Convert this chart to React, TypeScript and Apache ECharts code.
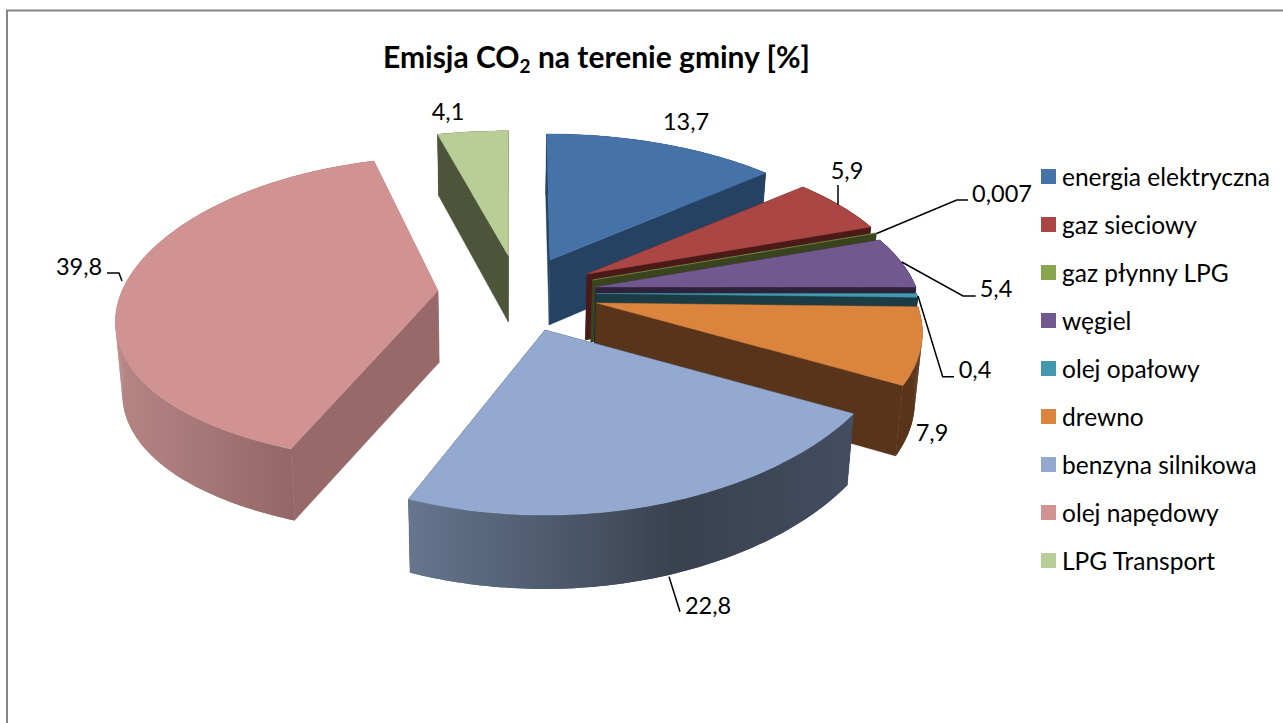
import React, { useEffect, useRef } from "react";
import * as echarts from "echarts";

const categories = ["energia elektryczna", "gaz sieciowy", "gaz płynny LPG", "węgiel", "olej opałowy", "drewno", "benzyna silnikowa", "olej napędowy", "LPG Transport"];
const values = [13.7, 5.9, 0.007, 5.4, 0.4, 7.9, 22.8, 39.8, 4.1];
const valueLabels = ["13,7", "5,9", "0,007", "5,4", "0,4", "7,9", "22,8", "39,8", "4,1"];
const topColors = ["#4572A7", "#AA4643", "#89A54E", "#71588F", "#4198AF", "#DB843D", "#93A9CF", "#D19392", "#B9CD96"];
const faceColors = ["#264263", "#4A1A18", "#39431E", "#2D2239", "#1B3C45", "#58341A", "#3C455A", "#976A69", "#4C5439"];

// apex of each exploded slice on the page and its thickness
const apexes = [[550, 260, 65], [587, 274, 66], [592.5, 280, 62], [596, 287, 62], [596.5, 293.5, 62], [596.5, 303, 68], [545, 330, 69], [438, 291, 71.5], [508.5, 256, 66]];
// rx, ry, x perspective, y perspective, depth perspective, skew of each slice
const geometry = [
  [323, 150, 0.19, 0.19, 0.07, -3.5],
  [320, 150, 0.19, 0.19, 0.07, 0],
  [320, 150, 0.19, 0.19, 0.07, 0],
  [320, 150, 0.19, 0.19, 0.07, 0],
  [320, 150, 0.19, 0.19, 0.07, 0],
  [320, 150, 0.19, 0.19, 0.07, 0],
  [346, 154, 0.056, 0.168, 0.07, 0],
  [316, 150.6, 0.19, 0.125, 0, 4],
  [330, 149, 0.19, 0.19, 0.07, 0],
];
const rimStops: ([number, string][] | null)[] = [null, null, null, null, null, null,
  [[0, "#66768F"], [0.61, "#39414F"], [1, "#434D60"]], [[0, "#B58584"], [1, "#936766"]], null];
const rimRange = [[0, 0], [0, 0], [0, 0], [0, 0], [0, 0], [0, 0], [408, 852], [120, 295], [0, 0]];
const labelPos = [[686, 121], [847, 170], [1002, 193], [996, 288], [975, 369], [932, 432], [708, 605], [79, 266], [448, 111]];
const leaders: number[][][] = [[], [[838, 185], [838, 205]], [[876.7, 233.5], [956.7, 200], [968, 200]], [[901.7, 262], [963, 296], [975.7, 296]], [[918, 296], [942.7, 376.7], [954, 376.7]], [], [[669, 576.7], [680, 611.7]], [[107, 273], [119, 273], [122, 281]], []];

const FONT = "Lato";
const total = values.reduce((a, b) => a + b, 0);
const startOf = (i: number) => values.slice(0, i).reduce((a, b) => a + b, 0) / total * 360;

const BOTTOM_K = 0.018, BOTTOM_X0 = 500;

function project(i: number, deg: number, radius: number, bottom: boolean): number[] {
  const [ax, ay, h] = apexes[i];
  const [rx, ry, px, py, dp, skew] = geometry[i];
  const a = deg * Math.PI / 180;
  const X = Math.sin(a) * radius, Y = Math.cos(a) * radius;
  let sx = ax + rx * X / (1 + px * Y) + skew * Y;
  let sy = ay - ry * Y / (1 + py * Y);
  if (bottom) {
    sy += h * (1 - dp * Y);
    sx -= (sx - BOTTOM_X0) * BOTTOM_K;
  }
  return [sx, sy];
}

function renderSlice(i: number) {
  return (_p: any, api: any) => {
    const share = api.value(0) / total * 360;
    const a0 = startOf(i), a1 = a0 + share;
    const n = Math.max(1, Math.ceil(share));
    const topArc: number[][] = [], botArc: number[][] = [];
    for (let k = 0; k <= n; k++) {
      const d = a0 + (a1 - a0) * k / n;
      topArc.push(project(i, d, 1, false));
      botArc.push(project(i, d, 1, true));
    }
    const apex = project(i, 0, 0, false), apexB = project(i, 0, 0, true);
    const face = faceColors[i];
    const stops = rimStops[i];
    const rimFill = stops
      ? new echarts.graphic.LinearGradient(rimRange[i][0], 0, rimRange[i][1], 0,
          stops.map(([offset, color]) => ({ offset, color })), true)
      : face;
    const poly = (points: number[][], fill: any, stroke = true) => ({
      type: "polygon", shape: { points }, style: stroke ? { fill, stroke: fill, lineWidth: 0.4 } : { fill, stroke: "none" },
    });
    const children: any[] = [
      poly([apex, topArc[0], botArc[0], apexB], face),
      poly([apex, topArc[n], botArc[n], apexB], face),
    ];
    // quads fill the silhouette where the rim turns; the whole band covers their seams
    for (let k = 0; k < n; k++) {
      children.push(poly([topArc[k], topArc[k + 1], botArc[k + 1], botArc[k]], rimFill, false));
    }
    children.push(poly([...topArc, ...botArc.slice().reverse()], rimFill, false));
    children.push(poly([apex, ...topArc], topColors[i]));
    return { type: "group", children };
  };
}

function renderLabels(_p: any, _api: any) {
  const children: any[] = [];
  leaders.forEach((pts) => {
    if (pts.length) children.push({ type: "polyline", shape: { points: pts }, style: { fill: "none", stroke: "#000", lineWidth: 1.5 } });
  });
  valueLabels.forEach((t, i) => {
    children.push({ type: "text", x: labelPos[i][0], y: labelPos[i][1], style: { text: t, fill: "#000", font: `23.5px ${FONT}`, align: "center", verticalAlign: "middle" } });
  });
  return { type: "group", children };
}

export default function App() {
  const ref = useRef<HTMLDivElement>(null);
  useEffect(() => {
    document.body.style.margin = "0";
    document.body.style.overflow = "hidden";
    const chart = echarts.init(ref.current!, null, { renderer: "svg" });
    chart.setOption({
      animation: false,
      backgroundColor: "#fff",
      title: {
        left: 378, top: 32, padding: 5,
        text: "{b|Emisja CO}{s|2}{b| na terenie gminy [%]}",
        textStyle: { rich: {
          b: { fontFamily: FONT, fontWeight: "bold", fontSize: 30, color: "#000", lineHeight: 38 },
          s: { fontFamily: FONT, fontWeight: "bold", fontSize: 19, color: "#000", lineHeight: 20, verticalAlign: "bottom" },
        } },
      },
      legend: {
        orient: "vertical", left: 1041, top: 164, padding: 0, itemWidth: 15, itemHeight: 15, itemGap: 23,
        icon: "rect", data: categories, selectedMode: false,
        textStyle: { fontFamily: FONT, fontSize: 24.5, color: "#000", padding: [0, 0, 0, 1] },
      },
      graphic: [{ type: "rect", silent: true, z: -1, shape: { x: 7, y: 10.5, width: 1400, height: 900 }, style: { fill: "none", stroke: "#868686", lineWidth: 2 } }],
      series: [
        ...categories.map((name, i) => ({
          type: "custom", name, coordinateSystem: "none", data: [[values[i]]],
          itemStyle: { color: topColors[i] }, renderItem: renderSlice(i), z: 2 + i, silent: true,
        })),
        { type: "custom", name: "labels", coordinateSystem: "none", data: [[0]], renderItem: renderLabels, z: 20, silent: true },
      ],
    });
    return () => chart.dispose();
  }, []);
  return <div ref={ref} style={{ width: 1283, height: 723 }} />;
}
